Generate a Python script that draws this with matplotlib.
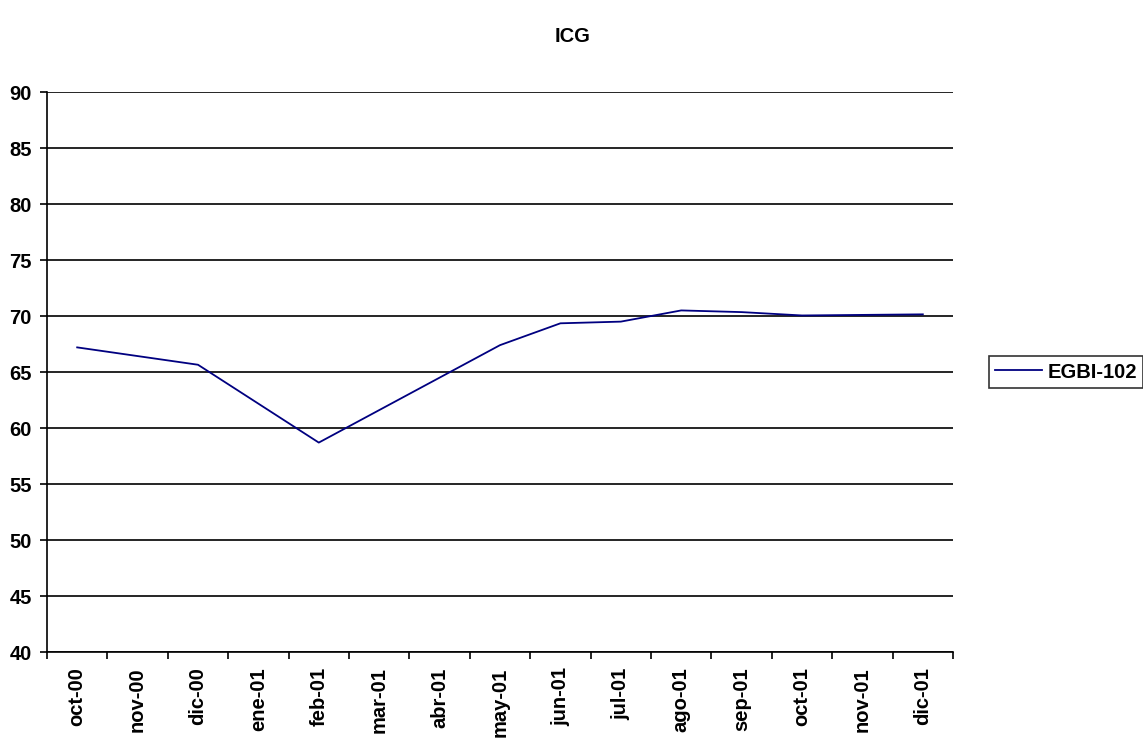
import numpy as np
import matplotlib.pyplot as plt

plt.rcParams['font.family'] = ['Liberation Sans', 'DejaVu Sans']
plt.rcParams['font.weight'] = 'bold'

meses = ['oct-00', 'nov-00', 'dic-00', 'ene-01', 'feb-01', 'mar-01', 'abr-01',
         'may-01', 'jun-01', 'jul-01', 'ago-01', 'sep-01', 'oct-01', 'nov-01', 'dic-01']
# meses sin medida -> None (la linea une los puntos que hay)
egbi_102 = [67.2, None, 65.65, None, 58.7, None, None,
            67.4, 69.35, 69.5, 70.5, 70.35, 70.05, 70.1, 70.15]
yticks = [40, 45, 50, 55, 60, 65, 70, 75, 80, 85, 90]

fs = 14.5

fig = plt.figure(figsize=(11.43, 7.38), dpi=100)
ax = fig.add_axes([0.0411, 0.1165, 0.7927, 0.7588])

idx = [i for i, v in enumerate(egbi_102) if v is not None]
vals = [egbi_102[i] for i in idx]
ax.plot(idx, vals, color='#000080', lw=1.3, label='EGBI-102')

ax.set_xlim(-0.5, len(meses) - 0.5)
ax.set_ylim(40, 90)
ax.set_yticks(yticks)
ax.yaxis.grid(True, color='black', lw=1.2)
ax.set_axisbelow(True)

ax.set_xticks(range(len(meses)))
ax.set_xticklabels(meses, rotation=90, fontsize=fs, fontweight='bold')
ax.set_xticks(np.arange(-0.5, len(meses)), minor=True)
ax.tick_params(axis='x', which='major', length=0, pad=11)
ax.tick_params(axis='x', which='minor', length=5, width=1.2, direction='out')
ax.tick_params(axis='y', length=5, width=1.2, pad=6, labelsize=fs)
for lab in ax.get_yticklabels():
    lab.set_fontweight('bold')

for s in ['top', 'right']:
    ax.spines[s].set_visible(False)
for s in ['left', 'bottom']:
    ax.spines[s].set_linewidth(1.2)

fig.text(0.5005, 0.95, 'ICG', ha='center', va='center', fontsize=fs, fontweight='bold')

leg = ax.legend(loc='center left', bbox_to_anchor=(1.04, 0.5), fontsize=fs,
                frameon=True, fancybox=False, edgecolor='black', handlelength=2.3,
                borderpad=0.3, handletextpad=0.3, borderaxespad=0)
leg.get_frame().set_linewidth(1.2)

fig.savefig('out.png', dpi=100, facecolor='white')
